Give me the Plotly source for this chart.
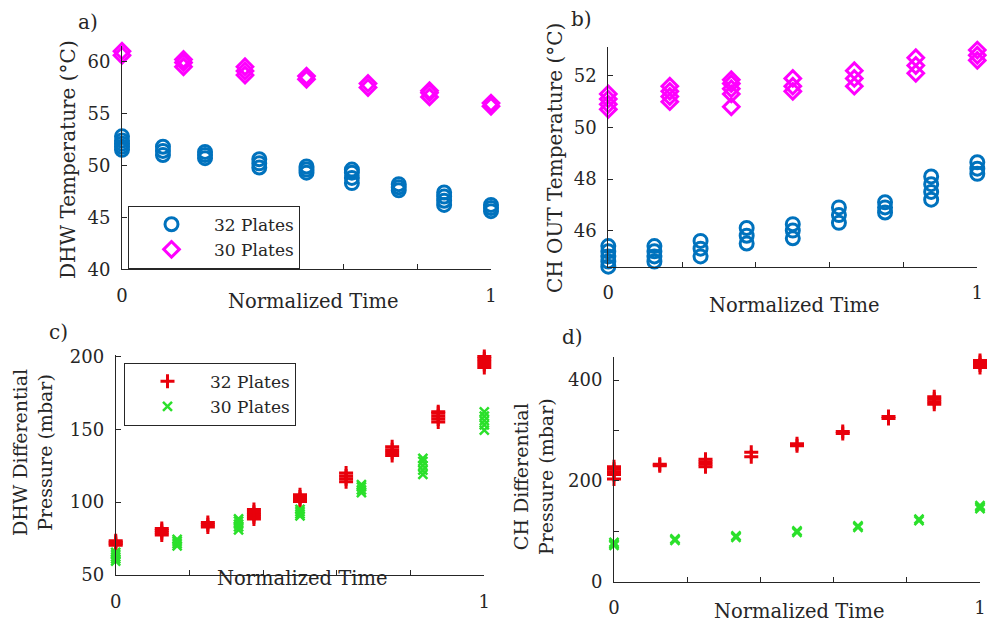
import plotly.graph_objects as go

# ---------------- data ----------------
# a) DHW temperature
t_a_32 = [0, 0.111, 0.225, 0.372, 0.5, 0.623, 0.75, 0.873, 1.0]
y_a_32 = [[51.5, 51.8, 52.1, 52.4, 52.8], [51.0, 51.4, 51.8], [50.7, 51.0, 51.3],
          [49.8, 50.2, 50.6], [49.3, 49.6, 49.9], [48.3, 48.8, 49.3, 49.6],
          [47.6, 47.9, 48.2], [46.2, 46.6, 47.0, 47.4], [45.6, 45.9, 46.2]]
t_a_30 = [0, 1/6, 2/6, 3/6, 4/6, 5/6, 1.0]
y_a_30 = [[60.6, 61.0], [59.5, 59.9, 60.2], [58.7, 59.1, 59.5], [58.3, 58.6],
          [57.5, 57.9], [56.6, 57.0, 57.2], [55.7, 56.0]]

# b) CH OUT temperature
t_b_32 = [0, 0.125, 0.25, 0.375, 0.5, 0.625, 0.75, 0.875, 1.0]
y_b_32 = [[44.6, 44.8, 45.0, 45.2, 45.4], [44.8, 45.0, 45.2, 45.4], [45.0, 45.3, 45.6],
          [45.5, 45.8, 46.1], [45.7, 46.0, 46.25], [46.3, 46.6, 46.9],
          [46.7, 46.9, 47.1], [47.2, 47.5, 47.8, 48.1], [48.2, 48.4, 48.65]]
t_b_30 = [0, 1/6, 2/6, 3/6, 4/6, 5/6, 1.0]
y_b_30 = [[50.7, 50.9, 51.1, 51.3], [51.0, 51.2, 51.4, 51.6], [50.8, 51.3, 51.5, 51.7, 51.85],
          [51.4, 51.6, 51.9], [51.6, 51.9, 52.2], [52.1, 52.4, 52.7], [52.6, 52.8, 53.0]]

# c) DHW differential pressure
t_c_32 = [0, 0.125, 0.25, 0.375, 0.5, 0.625, 0.75, 0.875, 1.0]
y_c_32 = [[70.5, 71.5, 72.5, 73.5], [77.5, 79, 80.5, 82], [83, 84.5, 86],
          [88.5, 90, 91.5, 93, 95], [100.5, 102, 103.5, 105], [114, 116, 118, 120],
          [132, 134, 136, 138], [155, 157, 159, 161, 162], [192.5, 194.5, 196.5, 198.5, 200]]
t_c_30 = [0, 1/6, 2/6, 3/6, 4/6, 5/6, 1.0]
y_c_30 = [[59.5, 61, 62.5, 64, 65.5], [70, 71.5, 73, 74.5], [81, 83, 85, 87, 88.5],
          [90.5, 92, 93.5, 95], [106.5, 108.5, 110.5, 112], [119, 122, 125, 128, 130],
          [149.5, 153, 156, 159, 162]]

# d) CH differential pressure
t_d_32 = [0, 0.125, 0.25, 0.375, 0.5, 0.625, 0.75, 0.875, 1.0]
y_d_32 = [[204, 213, 218, 223, 228], [230, 233], [228, 233, 238, 243], [248, 257],
          [270, 274], [294, 298], [324, 328], [352, 357, 362, 367], [425, 430, 435, 439]]
t_d_30 = [0, 1/6, 2/6, 3/6, 4/6, 5/6, 1.0]
y_d_30 = [[72, 75, 78], [82, 85], [88, 91], [98, 101], [108, 111], [121, 124], [145, 148, 151]]

legend_names = ["32 Plates", "30 Plates"]
x_ticks = [0, 0.2, 0.4, 0.6, 0.8, 1.0]
x_ticktext = ["0", "", "", "", "", "1"]

BLUE = "#0072BD"
MAGENTA = "#FF00FF"
RED = "#E8000B"
GREEN = "#2BE02B"
AX = "#262626"
FONT = "DejaVu Serif"


def flat(ts, groups):
    xs, ys = [], []
    for t, g in zip(ts, groups):
        for v in g:
            xs.append(t)
            ys.append(v)
    return xs, ys


fig = go.Figure()

def add(ts, groups, name, symbol, color, size, lw, xa, ya, legend, show):
    xs, ys = flat(ts, groups)
    fig.add_trace(go.Scatter(
        x=xs, y=ys, mode="markers", name=name, xaxis=xa, yaxis=ya,
        legend=legend, showlegend=show, cliponaxis=False,
        marker=dict(symbol=symbol, size=size, color=color,
                    line=dict(color=color, width=lw))))

add(t_a_32, y_a_32, legend_names[0], "circle-open", BLUE, 13, 3, "x", "y", "legend", True)
add(t_a_30, y_a_30, legend_names[1], "diamond-open", MAGENTA, 12, 3, "x", "y", "legend", True)
add(t_b_32, y_b_32, legend_names[0], "circle-open", BLUE, 13, 3, "x2", "y2", "legend", False)
add(t_b_30, y_b_30, legend_names[1], "diamond-open", MAGENTA, 12, 3, "x2", "y2", "legend", False)
add(t_c_32, y_c_32, legend_names[0], "cross-thin-open", RED, 10, 3, "x3", "y3", "legend2", True)
add(t_c_30, y_c_30, legend_names[1], "x-thin-open", GREEN, 9, 2.5, "x3", "y3", "legend2", True)
add(t_d_32, y_d_32, legend_names[0], "cross-thin-open", RED, 10, 3, "x4", "y4", "legend2", False)
add(t_d_30, y_d_30, legend_names[1], "x-thin-open", GREEN, 9, 2.5, "x4", "y4", "legend2", False)

W, H = 987, 624

def px_x(p):
    return p / W

def px_y(p):
    return 1 - p / H

common_x = dict(range=[0, 1], tickvals=x_ticks, ticktext=x_ticktext, ticks="inside",
                ticklen=5, tickcolor=AX, showline=True, linecolor=AX, linewidth=1,
                showgrid=False, zeroline=False, mirror=False, automargin=False,
                tickfont=dict(family=FONT, size=18, color=AX), ticklabelstandoff=10)
common_y = dict(ticks="inside", ticklen=5, tickcolor=AX, showline=True, linecolor=AX,
                linewidth=1, showgrid=False, zeroline=False, mirror=False, automargin=False,
                tickfont=dict(family=FONT, size=18, color=AX), ticklabelstandoff=7)

fig.update_layout(
    width=W, height=H, margin=dict(l=0, r=0, t=0, b=0),
    paper_bgcolor="white", plot_bgcolor="white",
    font=dict(family=FONT, size=18, color=AX),
    xaxis=dict(domain=[px_x(122), px_x(491)], anchor="y", **common_x),
    yaxis=dict(domain=[px_y(269.3), px_y(46)], anchor="x", range=[40, 61.5],
               tickvals=[40, 45, 50, 55, 60], **common_y),
    xaxis2=dict(domain=[px_x(608.3), px_x(977.3)], anchor="y2", **common_x),
    yaxis2=dict(domain=[px_y(266.7), px_y(46.7)], anchor="x2", range=[44.6, 53.13],
                tickvals=[46, 48, 50, 52], **common_y),
    xaxis3=dict(domain=[px_x(115.7), px_x(484.3)], anchor="y3", **common_x),
    yaxis3=dict(domain=[px_y(575), px_y(355)], anchor="x3", range=[50, 201],
                tickvals=[50, 100, 150, 200], **common_y),
    xaxis4=dict(domain=[px_x(614), px_x(980)], anchor="y4", **common_x),
    yaxis4=dict(domain=[px_y(581.7), px_y(357)], anchor="x4", range=[0, 446],
                tickvals=[0, 100, 200, 300, 400], ticktext=["0", "", "200", "", "400"],
                **common_y),
    legend=dict(x=px_x(128), y=px_y(205.7), xanchor="left", yanchor="top",
                bgcolor="white", bordercolor=AX, borderwidth=1, itemwidth=75,
                font=dict(family=FONT, size=17, color=AX), tracegroupgap=0),
    legend2=dict(x=px_x(124), y=px_y(362.7), xanchor="left", yanchor="top",
                 bgcolor="white", bordercolor=AX, borderwidth=1, itemwidth=75,
                 font=dict(family=FONT, size=17, color=AX), tracegroupgap=0),
)

ann = []
def text(x, y, s, size=18, angle=0):
    ann.append(dict(x=px_x(x), y=px_y(y), xref="paper", yref="paper", text=s,
                    showarrow=False, textangle=angle, xanchor="center", yanchor="middle",
                    font=dict(family=FONT, size=size, color=AX)))

# panel labels
text(88, 22, "a)", 20)
text(581, 19, "b)", 20)
text(58, 332, "c)", 20)
text(572, 337, "d)", 20)
# x titles
text(313, 301, "Normalized Time", 19.5)
text(794, 305, "Normalized Time", 19.5)
text(302, 578, "Normalized Time", 19.5)
text(799, 611, "Normalized Time", 19.5)
# y titles
text(68, 160, "DHW Temperature (°C)", 20, angle=-90)
text(555, 158, "CH OUT Temperature (°C)", 20, angle=-90)
text(32, 453, "DHW Differential<br>Pressure (mbar)", 19, angle=-90)
text(534, 477, "CH Differential<br>Pressure (mbar)", 19, angle=-90)
fig.update_layout(annotations=ann)

fig.write_html("out.html",
               config={"displayModeBar": False},
               post_script="document.body.style.margin='0px';"
                           "document.body.style.overflow='hidden';")
